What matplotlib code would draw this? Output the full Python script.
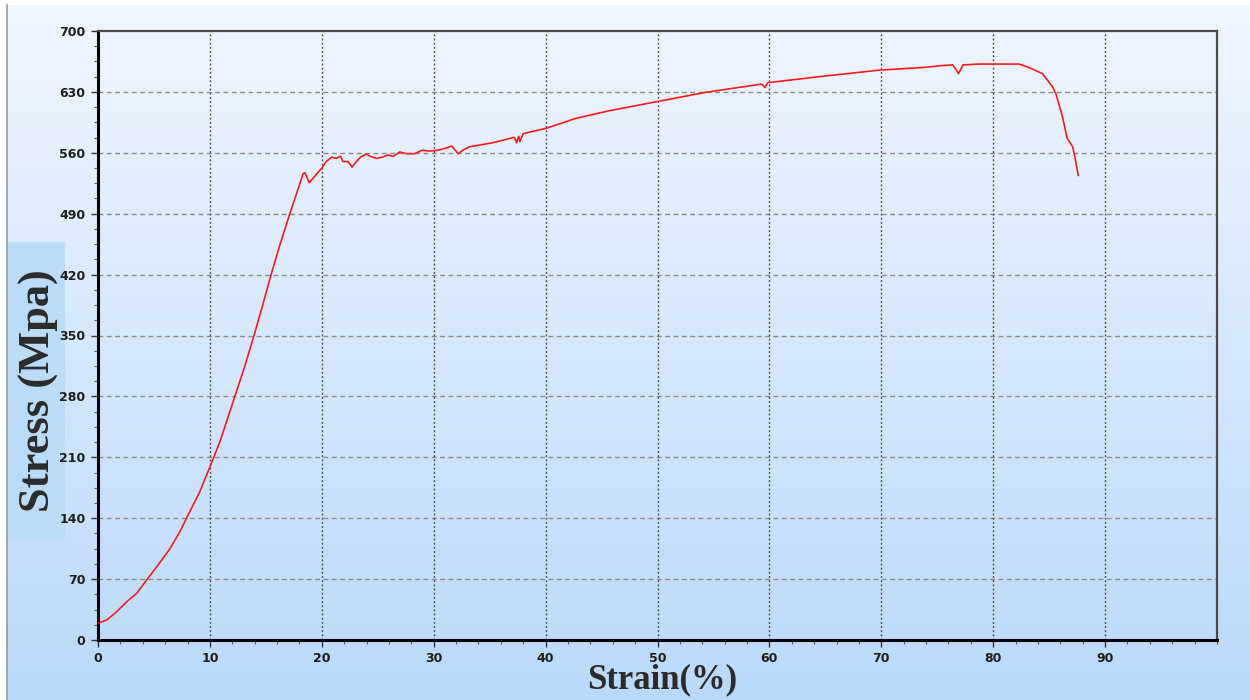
"""
拉伸试验应力-应变曲线。
"""

import numpy as np
import matplotlib
matplotlib.use("Agg")
import matplotlib.pyplot as plt
from matplotlib.colors import to_rgb
from matplotlib.patches import Rectangle
from matplotlib.ticker import FixedLocator, MultipleLocator

# 应变 (%)
strain = [
    0.0, 0.12, 0.78, 1.67, 2.56, 3.45, 4.35, 5.24, 6.43, 7.32, 8.2, 9.1, 10.0,
    10.9, 12.23, 13.1, 14.0, 14.76, 15.5, 16.25, 17.14, 17.74, 18.33, 18.5,
    18.87, 19.4, 19.97, 20.4, 20.87, 21.3, 21.67, 21.9, 22.35, 22.7, 23.1,
    23.5, 24.0, 24.3, 24.9, 25.5, 25.9, 26.4, 26.96, 27.56, 28.3, 29.0, 29.6,
    30.4, 31.0, 31.6, 32.2, 32.6, 33.2, 34.1, 35.3, 36.5, 37.2, 37.4, 37.6,
    37.7, 38.0, 40.0, 42.7, 45.7, 48.4, 49.9, 54.3, 59.3, 59.6, 59.85, 64.8,
    69.8, 73.7, 75.2, 76.4, 76.9, 77.3, 78.75, 80.0, 82.3, 83.2, 84.4, 85.3,
    85.6, 86.2, 86.6, 87.1, 87.3, 87.6,
]

# 应力 (MPa)
stress = [
    19.5, 19.9, 23.0, 32.5, 44.0, 53.6, 69.0, 84.0, 105.0, 124.5, 147.5, 170.5,
    199.0, 228.0, 280.0, 314.0, 352.5, 387.0, 421.5, 454.0, 490.0, 513.0,
    536.0, 537.0, 525.6, 533.5, 542.0, 550.0, 555.0, 553.6, 556.0, 550.0,
    550.0, 543.6, 550.0, 555.5, 558.6, 556.0, 553.6, 555.5, 557.5, 556.0,
    561.0, 559.0, 559.0, 563.0, 562.0, 563.0, 565.0, 567.8, 559.0, 563.0,
    567.0, 569.0, 571.6, 575.5, 577.8, 571.6, 579.0, 572.8, 582.0, 588.0,
    599.6, 608.4, 615.0, 618.7, 629.5, 639.0, 635.0, 640.6, 648.0, 655.0,
    658.0, 660.0, 661.0, 651.0, 661.0, 662.0, 662.0, 662.0, 658.0, 651.0,
    636.0, 628.0, 601.0, 577.0, 567.0, 555.0, 534.0,
]

x_ticks = [0, 10, 20, 30, 40, 50, 60, 70, 80, 90]
y_ticks = [0, 70, 140, 210, 280, 350, 420, 490, 560, 630, 700]

TOP_COLOR = "#F0F6FF"
BOTTOM_COLOR = "#BAD9FA"


def draw_background(fig):
    """整幅图的竖直渐变底色"""
    bg = fig.add_axes((7 / 1250, 0, 1 - 7 / 1250, 1 - 5 / 700), zorder=-10)
    top = np.array(to_rgb(TOP_COLOR))
    bottom = np.array(to_rgb(BOTTOM_COLOR))
    t = np.linspace(0, 1, 256)[:, None]
    grad = (top * (1 - t) + bottom * t)[:, None, :]
    bg.imshow(grad, aspect="auto", extent=(0, 1, 0, 1))
    bg.set_axis_off()
    # 左侧灰色细线
    fig.add_artist(plt.Line2D([7 / 1250, 7 / 1250], [0, 1 - 5 / 700],
                              color="#9a9a9a", lw=1.2, transform=fig.transFigure))


def main():
    fig = plt.figure(figsize=(12.5, 7), dpi=100, facecolor="white")
    draw_background(fig)

    ax = fig.add_axes((98 / 1250, 60 / 700, 1119 / 1250, 609 / 700))
    ax.patch.set_alpha(0)

    ax.plot(strain, stress, color="#FF1A1A", lw=1.2, zorder=3)

    ax.set_xlim(0, 100)
    ax.set_ylim(0, 700)
    ax.xaxis.set_major_locator(FixedLocator(x_ticks))
    ax.xaxis.set_minor_locator(MultipleLocator(2))
    ax.yaxis.set_major_locator(FixedLocator(y_ticks))
    ax.yaxis.set_minor_locator(MultipleLocator(17.5))

    ax.tick_params(which="major", length=5, width=1, color="#333333",
                   labelsize=9, labelcolor="#1e1e1e", pad=4)
    ax.tick_params(which="minor", length=3, width=0.8, color="#555555")
    for lab in ax.get_xticklabels() + ax.get_yticklabels():
        lab.set_fontweight("bold")

    # 网格：横线为长虚线，竖线为短点线
    for y in y_ticks[1:-1]:
        ax.axhline(y, color="#8c8c8c", lw=1.0, dashes=(3.5, 2.5), zorder=1)
    for x in x_ticks[1:]:
        ax.axvline(x, color="#4f4f4f", lw=1.0, dashes=(1.4, 1.6), zorder=1)

    for side in ("left", "bottom"):
        ax.spines[side].set_linewidth(2.2)
        ax.spines[side].set_color("black")
    for side in ("top", "right"):
        ax.spines[side].set_linewidth(1.6)
        ax.spines[side].set_color("#4a4a4a")

    # 纵轴标题底框
    fig.add_artist(Rectangle((7 / 1250, 160 / 700), 58 / 1250, 298 / 700,
                             transform=fig.transFigure, facecolor="#BBDCF9",
                             edgecolor="none", zorder=-5))
    fig.text(39 / 1250, 309 / 700, "Stress (Mpa)", rotation=90,
             ha="center", va="center", fontsize=32, fontweight="bold",
             family="Liberation Serif", color="#2b2b2b")
    fig.text(662 / 1250, 20 / 700, "Strain(%)", ha="center", va="center",
             fontsize=25, fontweight="bold", family="Liberation Serif",
             color="#2b2b2b")

    fig.savefig("out.png", dpi=100)


if __name__ == "__main__":
    main()
